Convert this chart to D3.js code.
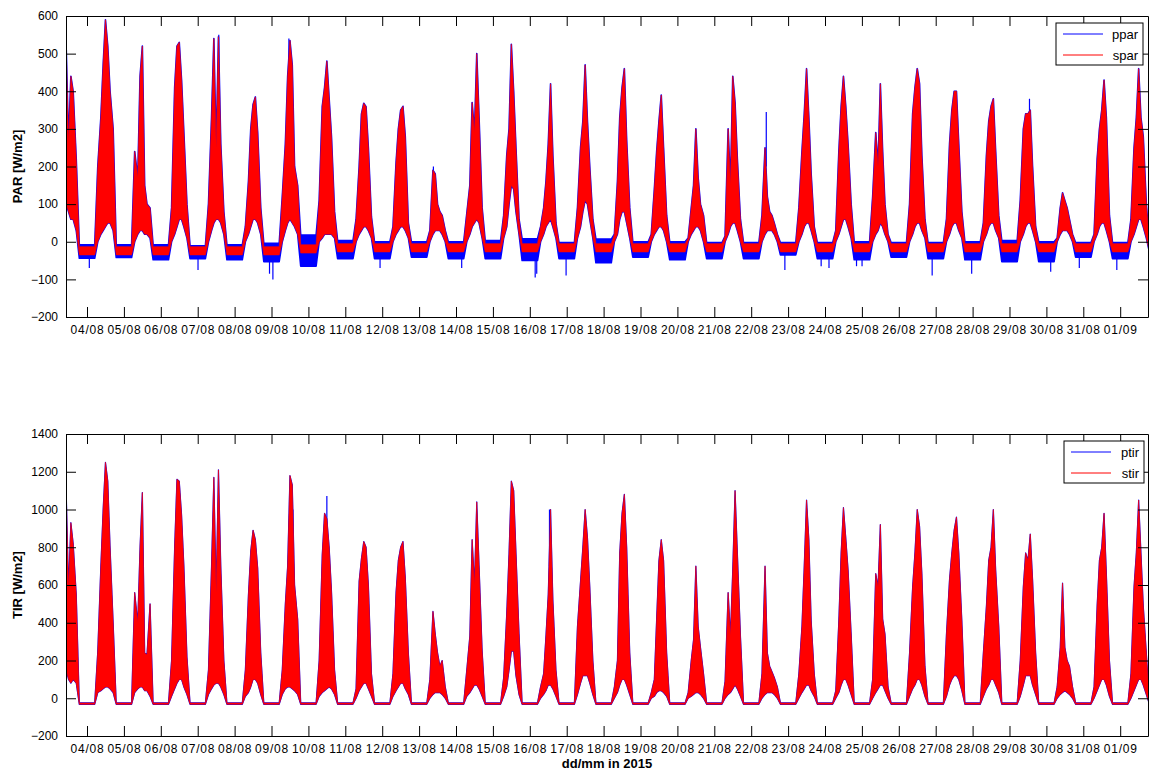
<!DOCTYPE html>
<html>
<head>
<meta charset="utf-8">
<script src="https://cdn.jsdelivr.net/npm/d3@7"></script>
<style>
  body { margin: 0; background: #fff; }
  svg { font-family: "Liberation Sans", Arial, Helvetica, sans-serif; }
</style>
</head>
<body>
<svg id="chart" width="1151" height="774"></svg>
<script>
// days shown, 03/08 .. 01/09 (index d = day of August - 3)
const dayLabels = ['03/08','04/08','05/08','06/08','07/08','08/08','09/08','10/08','11/08','12/08',
  '13/08','14/08','15/08','16/08','17/08','18/08','19/08','20/08','21/08','22/08',
  '23/08','24/08','25/08','26/08','27/08','28/08','29/08','30/08','31/08','01/09'];
// hours of the day at which the envelopes were read
const hours = [5, 7, 9, 10.5, 12, 13.5, 15, 17, 19];

// PAR, upper / lower envelope of spar per day (W/m2)
const sparHi = [
  [null,null,null,510,265,440,400,220,-13],
  [-13,200,330,470,590,520,400,300,-13],
  [-13,240,170,440,520,150,100,90,-13],
  [-13,90,410,520,530,430,290,100,-13],
  [-13,100,330,540,250,545,260,80,-13],
  [-13,40,160,300,365,385,290,90,-13],
  [-13,120,260,440,535,470,200,150,-8],
  [-8,110,360,410,480,380,280,80,-5],
  [-5,60,200,340,368,359,250,66,-5],
  [-5,40,210,300,350,360,280,50,-5],
  [-5,30,190,180,100,80,70,30,-5],
  [-5,75,150,370,290,500,330,90,-5],
  [-5,70,230,300,525,400,250,60,-5],
  [-5,40,90,160,260,420,230,50,-5],
  [-5,90,250,320,470,320,200,60,-5],
  [-5,20,160,330,410,460,270,90,-5],
  [-5,20,140,240,320,390,250,70,-5],
  [-5,10,90,150,300,170,100,70,-5],
  [-5,15,300,150,440,370,220,60,-5],
  [-5,70,250,120,80,70,50,20,-5],
  [-5,90,240,340,460,330,180,40,-5],
  [-5,30,240,360,440,360,260,100,-5],
  [-5,120,290,200,420,240,100,20,-5],
  [-5,100,340,410,460,420,230,60,-5],
  [-5,60,260,350,400,400,260,80,-5],
  [-5,50,230,320,360,380,240,70,-5],
  [-5,110,300,340,340,350,200,40,-5],
  [-5,10,90,130,110,90,60,20,-5],
  [-5,20,220,300,350,430,330,70,-5],
  [-5,60,250,330,460,330,280,100,-5]
];
const sparLo = [
  [null,null,null,100,80,60,60,30,-35],
  [-35,0,20,30,40,50,50,30,-35],
  [-35,0,20,30,30,20,20,10,-35],
  [-35,0,20,40,60,60,40,10,-35],
  [-35,0,30,50,60,60,50,20,-35],
  [-35,0,20,40,60,60,50,20,-35],
  [-35,0,30,50,60,50,40,20,-30],
  [-30,0,10,20,20,20,20,10,-27],
  [-27,0,20,30,40,40,30,10,-27],
  [-27,0,20,30,40,40,30,10,-27],
  [-27,0,20,30,30,30,20,0,-27],
  [-27,0,20,40,50,60,50,10,-27],
  [-27,10,40,100,150,140,80,20,-27],
  [-27,0,20,40,50,60,40,10,-27],
  [-27,10,40,80,110,100,60,10,-27],
  [-27,0,20,60,80,80,50,10,-27],
  [-27,0,20,30,40,40,30,0,-27],
  [-27,0,20,30,40,40,30,0,-27],
  [-27,0,20,40,50,50,30,0,-27],
  [-27,0,20,30,30,30,20,0,-27],
  [-27,0,20,40,50,50,30,0,-27],
  [-27,0,20,40,60,60,40,10,-27],
  [-27,0,20,30,50,40,20,0,-27],
  [-27,0,20,40,50,50,30,10,-27],
  [-27,0,20,40,50,50,30,10,-27],
  [-27,0,20,40,50,50,30,10,-27],
  [-27,0,20,40,50,50,30,0,-27],
  [-27,0,20,30,30,30,20,0,-27],
  [-27,0,20,40,50,50,30,0,-27],
  [-27,0,20,40,60,60,40,10,-27]
];
// ppar night band [low, high] for the night after day d
const pparNight = [
  [-44,-8],[-42,-8],[-48,-8],[-45,-11],[-48,-8],[-53,-4],[-65,18],[-45,3],[-45,0],[-41,0],
  [-45,0],[-45,3],[-50,8],[-45,-2],[-56,7],[-41,0],[-48,0],[-45,-2],[-45,-2],[-35,-2],
  [-45,-2],[-48,0],[-41,-2],[-45,-2],[-48,0],[-53,3],[-53,0],[-41,-2],[-45,-2]
];
// ppar single spikes: [day, hour, from, to]
const pparSpikes = [
  [1,1.5,-20,-70],[4,0.2,-20,-75],[5,22.7,-20,-85],[6,0.9,-20,-100],[8,22.6,-20,-70],
  [11,3.7,-20,-70],[13,3.5,-20,-95],[13,4.5,-20,-85],[13,23.6,-20,-90],[19,21.9,-20,-75],
  [20,21.5,-20,-65],[21,2.6,-20,-70],[21,20.5,-20,-65],[22,0.1,-20,-65],[23,21.7,-20,-90],
  [24,23.4,-20,-85],[27,2.8,-20,-80],[27,21.4,-20,-70],[28,21.8,-20,-75],
  [4,13.7,400,550],[6,11.3,400,540],[10,9.3,100,200],[19,9.8,200,345],[26,13,250,380]
];

// TIR, upper / lower envelope of stir per day (W/m2)
const stirHi = [
  [null,null,null,1080,580,930,820,550,-25],
  [-25,250,700,1000,1250,1150,800,400,-25],
  [-25,560,400,800,1090,240,230,500,-25],
  [-25,200,800,1160,1150,970,700,220,-25],
  [-25,150,700,1170,560,1210,700,200,-25],
  [-25,150,550,780,890,840,690,240,-25],
  [-25,150,500,700,1180,1130,600,420,-25],
  [-25,200,760,980,950,800,570,150,-25],
  [-25,50,620,740,830,800,600,130,-25],
  [-25,130,560,730,800,830,640,240,-25],
  [-25,100,460,340,240,170,200,60,-25],
  [-25,150,330,840,600,1040,700,250,-25],
  [-25,110,450,770,1150,1100,770,340,-25],
  [-25,60,130,330,550,1000,520,150,-25],
  [-25,380,620,800,1000,850,590,200,-25],
  [-25,60,200,770,980,1080,800,240,-25],
  [-25,30,100,420,730,840,730,240,-25],
  [-25,30,200,310,700,380,270,130,-25],
  [-25,90,560,330,680,1100,770,330,-25],
  [-25,130,700,240,170,140,110,60,-25],
  [-25,130,380,700,1050,840,410,130,-25],
  [-25,40,410,770,1010,850,680,340,-25],
  [-25,100,660,590,920,420,340,60,-25],
  [-25,240,590,770,1000,910,660,170,-25],
  [-25,340,630,770,890,960,770,410,-25],
  [-25,240,490,730,800,1000,680,380,-25],
  [-25,200,590,770,730,870,630,240,-25],
  [-25,60,270,610,270,200,170,60,-25],
  [-25,60,490,730,800,980,660,200,-25],
  [-25,130,590,770,1050,770,490,240,-25]
];
const stirLo = [
  [null,null,null,150,100,80,100,80,-32],
  [-32,30,40,50,60,60,50,30,-32],
  [-32,30,50,60,60,40,40,10,-32],
  [-32,10,50,80,100,100,60,20,-32],
  [-32,20,50,70,80,80,60,20,-32],
  [-32,10,30,60,100,100,80,20,-32],
  [-32,20,50,60,60,50,40,20,-32],
  [-32,10,30,40,50,60,50,20,-32],
  [-32,0,40,60,80,80,50,10,-32],
  [-32,10,40,60,80,80,50,20,-32],
  [-32,0,20,30,30,30,20,0,-32],
  [-32,10,30,50,70,70,50,10,-32],
  [-32,10,60,150,250,250,120,20,-32],
  [-32,0,20,40,70,70,50,10,-32],
  [-32,20,80,120,120,120,80,20,-32],
  [-32,0,30,70,100,100,70,20,-32],
  [-32,0,10,30,40,40,30,10,-32],
  [-32,0,10,20,30,30,20,0,-32],
  [-32,0,20,30,50,70,50,10,-32],
  [-32,0,20,30,30,30,20,0,-32],
  [-32,0,30,50,70,70,40,10,-32],
  [-32,0,30,70,100,100,70,20,-32],
  [-32,0,30,50,70,70,40,0,-32],
  [-32,10,50,70,100,100,70,10,-32],
  [-32,10,70,100,120,120,100,40,-32],
  [-32,10,50,70,100,100,70,30,-32],
  [-32,10,70,120,120,120,70,20,-32],
  [-32,0,20,30,40,30,20,0,-32],
  [-32,0,40,70,100,100,70,10,-32],
  [-32,0,40,70,100,100,70,20,-32]
];
// ptir single spikes: [day, hour, from, to]
const ptirSpikes = [[7,12,800,1071],[6,13.9,700,1000],[5,10,300,520],[13,12.8,700,1000]];

const parTicks = d3.range(-200, 601, 100);
const tirTicks = d3.range(-200, 1401, 200);

const svg = d3.select('#chart');
const start = new Date(Date.UTC(2015, 7, 3, 10, 20));
const end = new Date(Date.UTC(2015, 8, 1, 18, 5));
const x = d3.scaleUtc().domain([start, end]).range([66, 1148]);
const dayTime = (d, h) => new Date(Date.UTC(2015, 7, 3 + d) + h * 3600e3);
const dayTicks = dayLabels.slice(1).map((lab, i) => dayTime(i + 1, 0));
const fmt = d3.utcFormat('%d/%m');

// points of one series, optionally with its own night band
function series(hi, lo, night) {
  const pts = [];
  hi.forEach((row, d) => row.forEach((v, i) => {
    if (v === null) return;
    let a = lo[d][i], b = v;
    if (night) {
      if (i === 0 && d > 0) [a, b] = night[d - 1];
      if (i === hours.length - 1 && d < night.length) [a, b] = night[d];
    }
    pts.push({ t: dayTime(d, hours[i]), lo: a, hi: b });
  }));
  return pts;
}

function panel(cfg) {
  const y = d3.scaleLinear().domain(cfg.domain).range([cfg.bottom, cfg.top]);
  const g = svg.append('g');
  const clipId = 'clip' + cfg.name;
  svg.append('clipPath').attr('id', clipId)
    .append('rect').attr('x', 66).attr('y', cfg.top).attr('width', 1082).attr('height', cfg.bottom - cfg.top);

  const area = d3.area().x(d => x(d.t)).y0(d => y(d.lo)).y1(d => y(d.hi));
  const plot = g.append('g').attr('clip-path', `url(#${clipId})`);

  plot.append('path').datum(cfg.blue)
    .attr('d', area).attr('fill', '#0000ff')
    .attr('stroke', '#0000ff').attr('stroke-width', cfg.blueStroke).attr('stroke-linejoin', 'round');
  plot.selectAll('line.spike').data(cfg.spikes).enter().append('line')
    .attr('x1', d => x(dayTime(d[0], d[1]))).attr('x2', d => x(dayTime(d[0], d[1])))
    .attr('y1', d => y(d[2])).attr('y2', d => y(d[3]))
    .attr('stroke', '#0000ff').attr('stroke-width', 1.2);
  plot.append('path').datum(cfg.red)
    .attr('d', area).attr('fill', '#ff0000')
    .attr('stroke', '#ff0000').attr('stroke-width', 0.6);

  // axes, ticks pointing inwards like matlab
  const bottomAxis = d3.axisBottom(x).tickValues(dayTicks).tickFormat(fmt)
    .tickSizeInner(-10).tickSizeOuter(0).tickPadding(8);
  const topAxis = d3.axisTop(x).tickValues(dayTicks).tickFormat('')
    .tickSizeInner(-10).tickSizeOuter(0);
  const leftAxis = d3.axisLeft(y).tickValues(cfg.ticks).tickFormat(d3.format('d'))
    .tickSizeInner(-10).tickSizeOuter(0).tickPadding(8);
  const rightAxis = d3.axisRight(y).tickValues(cfg.ticks).tickFormat('')
    .tickSizeInner(-10).tickSizeOuter(0);

  const axB = g.append('g').attr('transform', `translate(0,${cfg.bottom})`).call(bottomAxis);
  g.append('g').attr('transform', `translate(0,${cfg.top})`).call(topAxis);
  const axL = g.append('g').attr('transform', 'translate(66,0)').call(leftAxis);
  g.append('g').attr('transform', 'translate(1148,0)').call(rightAxis);
  g.selectAll('.domain').attr('stroke', '#000').attr('stroke-width', 1);
  g.selectAll('.tick line').attr('stroke', '#000');
  axB.selectAll('text').attr('font-size', 12).attr('fill', '#000')
    .attr('font-family', '"Liberation Sans", Arial, sans-serif').style('letter-spacing', '0.8px');
  axL.selectAll('text').attr('font-size', 12).attr('fill', '#000')
    .attr('font-family', '"Liberation Sans", Arial, sans-serif');

  g.append('text')
    .attr('transform', `translate(22,${(cfg.top + cfg.bottom) / 2}) rotate(-90)`)
    .attr('text-anchor', 'middle').attr('font-size', 13).attr('font-weight', 'bold')
    .text(cfg.label);

  // legend
  const lg = g.append('g');
  lg.append('rect').attr('x', cfg.legend.x).attr('y', cfg.legend.y)
    .attr('width', cfg.legend.w).attr('height', 42)
    .attr('fill', '#fff').attr('stroke', '#000').attr('stroke-width', 1);
  cfg.names.forEach((n, i) => {
    const ly = cfg.legend.y + 11 + i * 21;
    lg.append('line').attr('x1', cfg.legend.x + 7).attr('x2', cfg.legend.x + 47)
      .attr('y1', ly).attr('y2', ly)
      .attr('stroke', i === 0 ? '#0000ff' : '#ff0000').attr('stroke-width', 1);
    lg.append('text').attr('x', cfg.legend.x + cfg.legend.w - 5).attr('y', ly + 4.5)
      .attr('text-anchor', 'end').attr('font-size', 13).text(n);
  });
}

panel({
  name: 'par', top: 16, bottom: 317, domain: [-200, 600], ticks: parTicks,
  label: 'PAR [W/m2]', names: ['ppar', 'spar'],
  blue: series(sparHi, sparLo, pparNight), red: series(sparHi, sparLo, null),
  spikes: pparSpikes, blueStroke: 1.6,
  legend: { x: 1056, y: 23, w: 87 }
});
panel({
  name: 'tir', top: 434, bottom: 736, domain: [-200, 1400], ticks: tirTicks,
  label: 'TIR [W/m2]', names: ['ptir', 'stir'],
  blue: series(stirHi, stirLo, null), red: series(stirHi, stirLo, null),
  spikes: ptirSpikes, blueStroke: 1.2,
  legend: { x: 1064, y: 441, w: 80 }
});

svg.append('text').attr('x', 607).attr('y', 768).attr('text-anchor', 'middle')
  .attr('font-size', 13).attr('font-weight', 'bold').text('dd/mm in 2015');
</script>
</body>
</html>
